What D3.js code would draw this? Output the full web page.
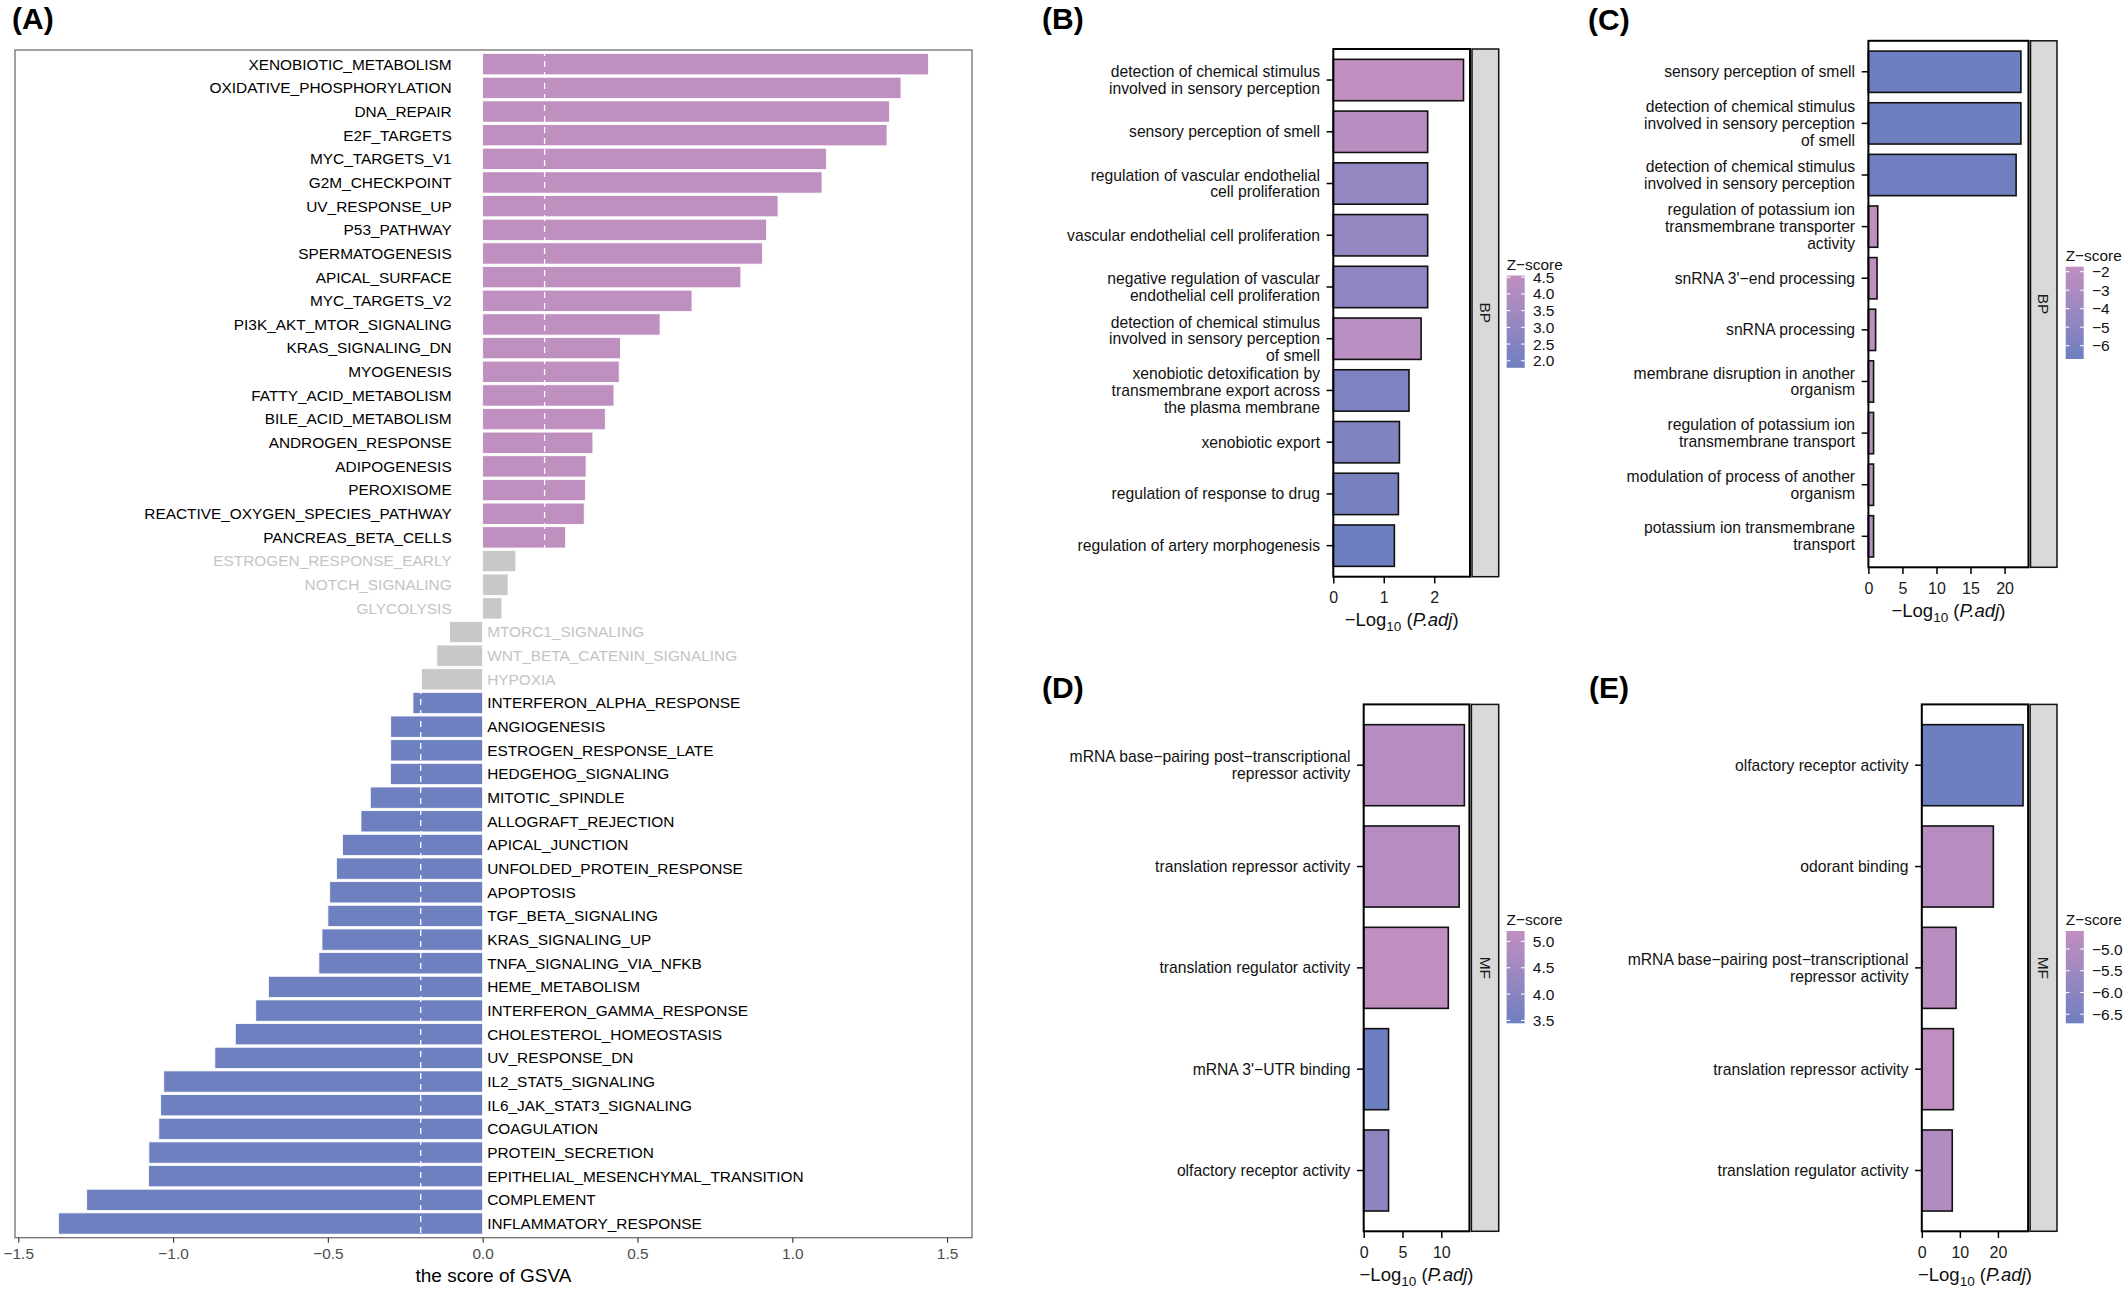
<!DOCTYPE html>
<html>
<head>
<meta charset="utf-8">
<script src="https://cdn.jsdelivr.net/npm/d3@7"></script>
<style>
  body { margin: 0; background: #fff; }
</style>
</head>
<body>
<div id="chart-area"></div>
<script>
// (A) GSVA hallmark scores, top to bottom
const hallmarkNames = [
  "XENOBIOTIC_METABOLISM", "OXIDATIVE_PHOSPHORYLATION", "DNA_REPAIR", "E2F_TARGETS",
  "MYC_TARGETS_V1", "G2M_CHECKPOINT", "UV_RESPONSE_UP", "P53_PATHWAY", "SPERMATOGENESIS",
  "APICAL_SURFACE", "MYC_TARGETS_V2", "PI3K_AKT_MTOR_SIGNALING", "KRAS_SIGNALING_DN",
  "MYOGENESIS", "FATTY_ACID_METABOLISM", "BILE_ACID_METABOLISM", "ANDROGEN_RESPONSE",
  "ADIPOGENESIS", "PEROXISOME", "REACTIVE_OXYGEN_SPECIES_PATHWAY", "PANCREAS_BETA_CELLS",
  "ESTROGEN_RESPONSE_EARLY", "NOTCH_SIGNALING", "GLYCOLYSIS", "MTORC1_SIGNALING",
  "WNT_BETA_CATENIN_SIGNALING", "HYPOXIA", "INTERFERON_ALPHA_RESPONSE", "ANGIOGENESIS",
  "ESTROGEN_RESPONSE_LATE", "HEDGEHOG_SIGNALING", "MITOTIC_SPINDLE", "ALLOGRAFT_REJECTION",
  "APICAL_JUNCTION", "UNFOLDED_PROTEIN_RESPONSE", "APOPTOSIS", "TGF_BETA_SIGNALING",
  "KRAS_SIGNALING_UP", "TNFA_SIGNALING_VIA_NFKB", "HEME_METABOLISM",
  "INTERFERON_GAMMA_RESPONSE", "CHOLESTEROL_HOMEOSTASIS", "UV_RESPONSE_DN",
  "IL2_STAT5_SIGNALING", "IL6_JAK_STAT3_SIGNALING", "COAGULATION", "PROTEIN_SECRETION",
  "EPITHELIAL_MESENCHYMAL_TRANSITION", "COMPLEMENT", "INFLAMMATORY_RESPONSE"
]
const hallmarkScores = [
  1.44, 1.351, 1.314, 1.306, 1.110, 1.096, 0.954, 0.917, 0.904, 0.834, 0.676, 0.573, 0.445,
  0.441, 0.424, 0.396, 0.356, 0.334, 0.332, 0.328, 0.268, 0.107, 0.082, 0.062, -0.107,
  -0.148, -0.198, -0.225, -0.297, -0.297, -0.298, -0.363, -0.393, -0.453, -0.472, -0.494,
  -0.500, -0.519, -0.529, -0.692, -0.733, -0.799, -0.865, -1.030, -1.040, -1.046, -1.078,
  -1.079, -1.279, -1.370
]
const gsvaTicks = [-1.5, -1.0, -0.5, 0, 0.5, 1.0, 1.5]
const GSVA_CUTOFF = 0.2

// (B) BP terms
const bTerms = [
  "detection of chemical stimulus\ninvolved in sensory perception",
  "sensory perception of smell",
  "regulation of vascular endothelial\ncell proliferation",
  "vascular endothelial cell proliferation",
  "negative regulation of vascular\nendothelial cell proliferation",
  "detection of chemical stimulus\ninvolved in sensory perception\nof smell",
  "xenobiotic detoxification by\ntransmembrane export across\nthe plasma membrane",
  "xenobiotic export",
  "regulation of response to drug",
  "regulation of artery morphogenesis"
]
const bLogP = [2.58, 1.87, 1.87, 1.87, 1.87, 1.74, 1.50, 1.31, 1.29, 1.21]
const bZ = [4.55, 4.25, 3.0, 3.0, 2.85, 4.3, 2.3, 2.4, 2.1, 1.79]
const bZTicks = [2.0, 2.5, 3.0, 3.5, 4.0, 4.5]
const bXTicks = [0, 1, 2]

// (C) BP terms
const cTerms = [
  "sensory perception of smell",
  "detection of chemical stimulus\ninvolved in sensory perception\nof smell",
  "detection of chemical stimulus\ninvolved in sensory perception",
  "regulation of potassium ion\ntransmembrane transporter\nactivity",
  "snRNA 3'\u2212end processing",
  "snRNA processing",
  "membrane disruption in another\norganism",
  "regulation of potassium ion\ntransmembrane transport",
  "modulation of process of another\norganism",
  "potassium ion transmembrane\ntransport"
]
const cLogP = [22.4, 22.4, 21.7, 1.37, 1.27, 1.06, 0.76, 0.76, 0.76, 0.76]
const cZ = [-6.72, -6.65, -6.6, -1.73, -1.85, -2.0, -2.2, -2.2, -2.3, -2.4]
const cZTicks = [-6, -5, -4, -3, -2]
const cXTicks = [0, 5, 10, 15, 20]

// (D) MF terms
const dTerms = [
  "mRNA base\u2212pairing post\u2212transcriptional\nrepressor activity",
  "translation repressor activity",
  "translation regulator activity",
  "mRNA 3'\u2212UTR binding",
  "olfactory receptor activity"
]
const dLogP = [12.97, 12.3, 10.9, 3.2, 3.2]
const dZ = [4.95, 4.95, 5.197, 3.446, 4.05]
const dZTicks = [3.5, 4.0, 4.5, 5.0]
const dXTicks = [0, 5, 10]

// (E) MF terms
const eTerms = [
  "olfactory receptor activity",
  "odorant binding",
  "mRNA base\u2212pairing post\u2212transcriptional\nrepressor activity",
  "translation repressor activity",
  "translation regulator activity"
]
const eLogP = [26.6, 18.8, 9.0, 8.3, 8.0]
const eZ = [-6.71, -4.9, -4.8, -4.585, -5.0]
const eZTicks = [-6.5, -6.0, -5.5, -5.0]
const eXTicks = [0, 10, 20]

const FONT = "'Liberation Sans', Arial, Helvetica, sans-serif"
const UP_COLOR = "#BF8FC0"
const DOWN_COLOR = "#6F80C0"
const NS_COLOR = "#CAC7C7"
const LOW_COLOR = "#6D7FC0"
const HIGH_COLOR = "#C08FC0"

const svg = d3.select("#chart-area").append("svg")
  .attr("width", 2128)
  .attr("height", 1292)
  .attr("font-family", FONT)
svg.append("rect").attr("width", 2128).attr("height", 1292).attr("fill", "#fff")

function panelTag(label, x, y) {
  svg.append("text")
    .attr("x", x)
    .attr("y", y)
    .attr("font-size", "30px")
    .attr("font-weight", "bold")
    .attr("fill", "#000")
    .text(label)
}

function drawGsva() {
  const BOX = { LEFT: 15, RIGHT: 972, TOP: 50, BOTTOM: 1237.7 }
  const lo = d3.min(hallmarkScores), hi = d3.max(hallmarkScores)
  const pad = (hi - lo) * 0.05
  const x = d3.scaleLinear().domain([lo - pad, hi + pad]).range([BOX.LEFT, BOX.RIGHT])
  const y = d3.scaleBand().domain(hallmarkNames)
    .range([BOX.TOP, BOX.BOTTOM])
    .paddingInner(0.1).paddingOuter(0.15)

  const rows = hallmarkNames.map((name, i) => ({ name: name, score: hallmarkScores[i] }))
  const g = svg.append("g")

  g.selectAll("rect.bar").data(rows).enter().append("rect")
    .attr("class", "bar")
    .attr("x", d => x(Math.min(0, d.score)))
    .attr("y", d => y(d.name))
    .attr("width", d => Math.abs(x(d.score) - x(0)))
    .attr("height", y.bandwidth())
    .attr("fill", d => d.score > GSVA_CUTOFF ? UP_COLOR : (d.score < -GSVA_CUTOFF ? DOWN_COLOR : NS_COLOR))
    .attr("stroke", "#fff")
    .attr("stroke-width", 0.8)

  //cutoff lines
  g.selectAll("line.cut").data([-GSVA_CUTOFF, GSVA_CUTOFF]).enter().append("line")
    .attr("x1", d => x(d)).attr("x2", d => x(d))
    .attr("y1", BOX.TOP).attr("y2", BOX.BOTTOM)
    .attr("stroke", "#fff")
    .attr("stroke-width", 1.3)
    .attr("stroke-dasharray", "6,5")

  g.selectAll("text.term").data(rows).enter().append("text")
    .attr("class", "term")
    .attr("x", d => d.score > 0 ? x(0) - 31 : x(0) + 4.5)
    .attr("y", d => y(d.name) + y.bandwidth() / 2)
    .attr("dy", "0.35em")
    .attr("text-anchor", d => d.score > 0 ? "end" : "start")
    .attr("font-size", "15.4px")
    .attr("fill", d => Math.abs(d.score) > GSVA_CUTOFF ? "#000" : "#C4C4C4")
    .text(d => d.name)

  g.append("rect")
    .attr("x", BOX.LEFT).attr("y", BOX.TOP)
    .attr("width", BOX.RIGHT - BOX.LEFT).attr("height", BOX.BOTTOM - BOX.TOP)
    .attr("fill", "none")
    .attr("stroke", "#707070")
    .attr("stroke-width", 1.3)

  const xAxis = g.append("g")
    .attr("transform", `translate(0, ${BOX.BOTTOM})`)
    .call(d3.axisBottom(x).tickValues(gsvaTicks).tickFormat(d3.format(".1f")).tickSize(5))
    .attr("font-family", FONT)
    .attr("font-size", "15.4px")
  xAxis.select(".domain").remove()
  xAxis.selectAll("line").attr("stroke", "#333").attr("stroke-width", 1.1)
  xAxis.selectAll("text").attr("y", 21.6).attr("dy", null).attr("fill", "#4D4D4D")

  g.append("text")
    .attr("x", (BOX.LEFT + BOX.RIGHT) / 2)
    .attr("y", BOX.BOTTOM + 44)
    .attr("text-anchor", "middle")
    .attr("font-size", "19px")
    .attr("fill", "#000")
    .text("the score of GSVA")
}

function goPanel(p) {
  const g = svg.append("g")
  const x = d3.scaleLinear().domain([0, d3.max(p.values) * 1.05]).range([p.left, p.right])
  const y = d3.scaleBand().domain(p.terms)
    .range([p.top, p.bottom])
    .paddingInner(0.2).paddingOuter(0.2)
  const zExtent = d3.extent(p.z)
  const fill = d3.scaleLinear().domain(zExtent).range([LOW_COLOR, HIGH_COLOR]).interpolate(d3.interpolateLab)

  const rows = p.terms.map((t, i) => ({ term: t, value: p.values[i], z: p.z[i] }))

  g.append("rect")
    .attr("x", p.left).attr("y", p.top)
    .attr("width", p.right - p.left).attr("height", p.bottom - p.top)
    .attr("fill", "#fff")

  g.selectAll("rect.bar").data(rows).enter().append("rect")
    .attr("class", "bar")
    .attr("x", x(0))
    .attr("y", d => y(d.term))
    .attr("width", d => x(d.value) - x(0))
    .attr("height", y.bandwidth())
    .attr("fill", d => fill(d.z))
    .attr("stroke", "#111")
    .attr("stroke-width", 1.6)

  g.append("rect")
    .attr("x", p.left).attr("y", p.top)
    .attr("width", p.right - p.left).attr("height", p.bottom - p.top)
    .attr("fill", "none")
    .attr("stroke", "#000")
    .attr("stroke-width", 2)

  //facet strip
  g.append("rect")
    .attr("x", p.right + 2).attr("y", p.top)
    .attr("width", p.stripRight - p.right - 2).attr("height", p.bottom - p.top)
    .attr("fill", "#D9D9D9")
    .attr("stroke", "#111")
    .attr("stroke-width", 1.5)
  const sx = (p.right + 2 + p.stripRight) / 2, sy = (p.top + p.bottom) / 2
  g.append("text")
    .attr("transform", `translate(${sx}, ${sy}) rotate(90)`)
    .attr("text-anchor", "middle")
    .attr("dy", "0.35em")
    .attr("font-size", "15.5px")
    .attr("fill", "#1a1a1a")
    .text(p.strip)

  //x axis
  const xAxis = g.append("g")
    .attr("transform", `translate(0, ${p.bottom})`)
    .call(d3.axisBottom(x).tickValues(p.xTicks).tickFormat(d3.format("d")).tickSize(6.7))
    .attr("font-family", FONT)
    .attr("font-size", "16px")
  xAxis.select(".domain").remove()
  xAxis.selectAll("line").attr("stroke", "#000").attr("stroke-width", 1.5)
  xAxis.selectAll("text").attr("y", 26.6).attr("dy", null).attr("fill", "#1a1a1a")

  //y ticks
  const yAxis = g.append("g")
    .attr("transform", `translate(${p.left}, 0)`)
    .call(d3.axisLeft(y).tickSize(6.7).tickFormat(""))
  yAxis.select(".domain").remove()
  yAxis.selectAll("line").attr("stroke", "#000").attr("stroke-width", 1.5)

  const LINE = 16.7
  rows.forEach(d => {
    const lines = d.term.split("\n")
    const cy = y(d.term) + y.bandwidth() / 2
    const txt = g.append("text")
      .attr("text-anchor", "end")
      .attr("font-size", "15.7px")
      .attr("fill", "#111")
    lines.forEach((line, i) => {
      txt.append("tspan")
        .attr("x", p.left - 13.3)
        .attr("y", cy + (i - (lines.length - 1) / 2) * LINE + 5.5)
        .text(line)
    })
  })

  //x title
  const title = g.append("text")
    .attr("x", (p.left + p.right) / 2)
    .attr("y", p.bottom + 49.3)
    .attr("text-anchor", "middle")
    .attr("font-size", "18.5px")
    .attr("fill", "#111")
  title.append("tspan").text("\u2212Log")
  title.append("tspan").attr("font-size", "13.5px").attr("dy", 5).text("10")
  title.append("tspan").attr("dy", -5).text(" (")
  title.append("tspan").attr("font-style", "italic").text("P.adj")
  title.append("tspan").text(")")

  //colour bar legend
  const LEG = { W: 18, H: 92.3 }
  const zy = d3.scaleLinear().domain(zExtent).range([p.legendTop + LEG.H, p.legendTop])
  const gradId = "grad" + p.strip + Math.round(p.legendX) + Math.round(p.legendTop)
  const grad = svg.append("defs").append("linearGradient")
    .attr("id", gradId)
    .attr("x1", 0).attr("y1", 1).attr("x2", 0).attr("y2", 0)
  d3.range(0, 1.0001, 0.1).forEach(t => {
    grad.append("stop")
      .attr("offset", t)
      .attr("stop-color", fill(zExtent[0] + t * (zExtent[1] - zExtent[0])))
  })
  g.append("rect")
    .attr("x", p.legendX).attr("y", p.legendTop)
    .attr("width", LEG.W).attr("height", LEG.H)
    .attr("fill", `url(#${gradId})`)
  p.zTicks.forEach(t => {
    [p.legendX, p.legendX + LEG.W * 0.8].forEach(x0 => {
      g.append("line")
        .attr("x1", x0).attr("x2", x0 + LEG.W * 0.2)
        .attr("y1", zy(t)).attr("y2", zy(t))
        .attr("stroke", "#fff").attr("stroke-width", 1.1)
    })
    g.append("text")
      .attr("x", p.legendX + LEG.W + 8.2)
      .attr("y", zy(t))
      .attr("dy", "0.36em")
      .attr("font-size", "15.5px")
      .attr("fill", "#111")
      .text(d3.format(p.zFormat)(t))
  })
  g.append("text")
    .attr("x", p.legendX)
    .attr("y", p.legendTop - 6)
    .attr("font-size", "15.4px")
    .attr("fill", "#111")
    .text("Z\u2212score")
}

panelTag("(A)", 12, 29)
panelTag("(B)", 1042, 29)
panelTag("(C)", 1588, 30)
panelTag("(D)", 1042, 698)
panelTag("(E)", 1589, 698)

drawGsva()

goPanel({ terms: bTerms, values: bLogP, z: bZ, zTicks: bZTicks, zFormat: ".1f", xTicks: bXTicks, strip: "BP",
  left: 1333.3, right: 1470, top: 49, bottom: 576.7, stripRight: 1498.7, legendX: 1506.7, legendTop: 275.5 })
goPanel({ terms: cTerms, values: cLogP, z: cZ, zTicks: cZTicks, zFormat: "d", xTicks: cXTicks, strip: "BP",
  left: 1868.4, right: 2028.5, top: 40.8, bottom: 567.3, stripRight: 2057, legendX: 2065.7, legendTop: 266.7 })
goPanel({ terms: dTerms, values: dLogP, z: dZ, zTicks: dZTicks, zFormat: ".1f", xTicks: dXTicks, strip: "MF",
  left: 1363.7, right: 1469.4, top: 704.4, bottom: 1231.3, stripRight: 1498.7, legendX: 1506.6, legendTop: 931 })
goPanel({ terms: eTerms, values: eLogP, z: eZ, zTicks: eZTicks, zFormat: ".1f", xTicks: eXTicks, strip: "MF",
  left: 1921.8, right: 2028.1, top: 704.4, bottom: 1231.3, stripRight: 2057, legendX: 2065.8, legendTop: 931 })
</script>
</body>
</html>
